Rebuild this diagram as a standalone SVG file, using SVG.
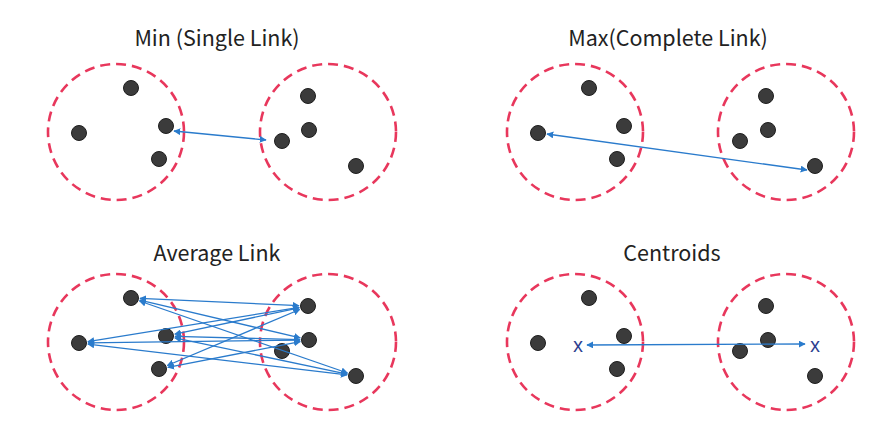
<svg xmlns="http://www.w3.org/2000/svg" width="896" height="437" viewBox="0 0 896 437">
<style>
.title{font-family:"Noto Sans CJK KR","Noto Sans",sans-serif;font-size:21.5px;fill:#222;text-anchor:middle}
.clu{fill:none;stroke:#e8375c;stroke-width:2.6;stroke-dasharray:10 6}
.pt{fill:#3b3b3b;stroke:#1e1e1e;stroke-width:1}
.ln{stroke:#2a7bcc;stroke-width:1.3;fill:none;marker-start:url(#ah);marker-end:url(#ah)}
.cx{font-family:"Noto Sans","DejaVu Sans",sans-serif;font-size:19px;fill:#2e3f8f;text-anchor:middle}
</style>
<defs>
<marker id="ah" viewBox="0 0 10 10" refX="9" refY="5" markerWidth="7" markerHeight="7" markerUnits="userSpaceOnUse" orient="auto-start-reverse">
<path d="M0,0 L10,5 L0,10 Z" fill="#2a7bcc"/>
</marker>
</defs>
<rect width="896" height="437" fill="#fff"/>

<g id="titles">
<text class="title" x="217" y="46">Min (Single Link)</text>
<text class="title" x="668" y="46">Max(Complete Link)</text>
<text class="title" x="217" y="261">Average Link</text>
<text class="title" x="672" y="261">Centroids</text>
</g>

<g id="panel-min">
<g id="min-c1"><circle class="clu" cx="116" cy="132" r="68"/>
<circle class="pt" cx="131" cy="88" r="7.5"/><circle class="pt" cx="79" cy="133" r="7.5"/><circle class="pt" cx="166" cy="126" r="7.5"/><circle class="pt" cx="159" cy="159" r="7.5"/></g>
<g id="min-c2"><circle class="clu" cx="328" cy="132" r="68"/>
<circle class="pt" cx="308" cy="96" r="7.5"/><circle class="pt" cx="309" cy="130" r="7.5"/><circle class="pt" cx="282" cy="141" r="7.5"/><circle class="pt" cx="356" cy="166" r="7.5"/></g>
</g>

<g id="panel-max">
<g id="max-c1"><circle class="clu" cx="575" cy="132" r="68"/>
<circle class="pt" cx="589" cy="88" r="7.5"/><circle class="pt" cx="538" cy="133" r="7.5"/><circle class="pt" cx="624" cy="126" r="7.5"/><circle class="pt" cx="617" cy="159" r="7.5"/></g>
<g id="max-c2"><circle class="clu" cx="786" cy="132" r="68"/>
<circle class="pt" cx="766" cy="96" r="7.5"/><circle class="pt" cx="768" cy="130" r="7.5"/><circle class="pt" cx="740" cy="141" r="7.5"/><circle class="pt" cx="815" cy="166" r="7.5"/></g>
</g>

<g id="panel-avg">
<g id="avg-c1"><circle class="clu" cx="116" cy="342" r="68"/>
<circle class="pt" cx="131" cy="298" r="7.5"/><circle class="pt" cx="79" cy="343" r="7.5"/><circle class="pt" cx="166" cy="336" r="7.5"/><circle class="pt" cx="159" cy="369" r="7.5"/></g>
<g id="avg-c2"><circle class="clu" cx="328" cy="342" r="68"/>
<circle class="pt" cx="308" cy="306" r="7.5"/><circle class="pt" cx="309" cy="340" r="7.5"/><circle class="pt" cx="282" cy="351" r="7.5"/><circle class="pt" cx="356" cy="376" r="7.5"/></g>
</g>

<g id="panel-cen">
<g id="cen-c1"><circle class="clu" cx="575" cy="342" r="68"/>
<circle class="pt" cx="589" cy="298" r="7.5"/><circle class="pt" cx="538" cy="343" r="7.5"/><circle class="pt" cx="624" cy="336" r="7.5"/><circle class="pt" cx="617" cy="369" r="7.5"/>
<text class="cx" x="578" y="352">x</text></g>
<g id="cen-c2"><circle class="clu" cx="786" cy="342" r="68"/>
<circle class="pt" cx="766" cy="306" r="7.5"/><circle class="pt" cx="768" cy="340" r="7.5"/><circle class="pt" cx="740" cy="351" r="7.5"/><circle class="pt" cx="815" cy="376" r="7.5"/>
<text class="cx" x="815" y="352">x</text></g>
</g>

<g id="connectors">
<line class="ln" x1="174" y1="131" x2="266" y2="140"/>
<line class="ln" x1="547" y1="134" x2="807" y2="170"/>
<line class="ln" x1="587" y1="345" x2="805" y2="344"/>
<line class="ln" x1="140" y1="298.4" x2="299" y2="305.6"/>
<line class="ln" x1="139.8" y1="300.1" x2="300.2" y2="337.9"/>
<line class="ln" x1="139.5" y1="301" x2="347.5" y2="373"/>
<line class="ln" x1="87.9" y1="341.6" x2="299.1" y2="307.4"/>
<line class="ln" x1="88" y1="342.9" x2="300" y2="340.1"/>
<line class="ln" x1="87.9" y1="344.1" x2="347.1" y2="374.9"/>
<line class="ln" x1="174.8" y1="334.1" x2="299.2" y2="307.9"/>
<line class="ln" x1="175" y1="336.3" x2="300" y2="339.7"/>
<line class="ln" x1="174.8" y1="337.9" x2="347.2" y2="374.1"/>
<line class="ln" x1="167.3" y1="365.5" x2="299.7" y2="309.5"/>
<line class="ln" x1="167.8" y1="367.3" x2="300.2" y2="341.7"/>
</g>
</svg>
